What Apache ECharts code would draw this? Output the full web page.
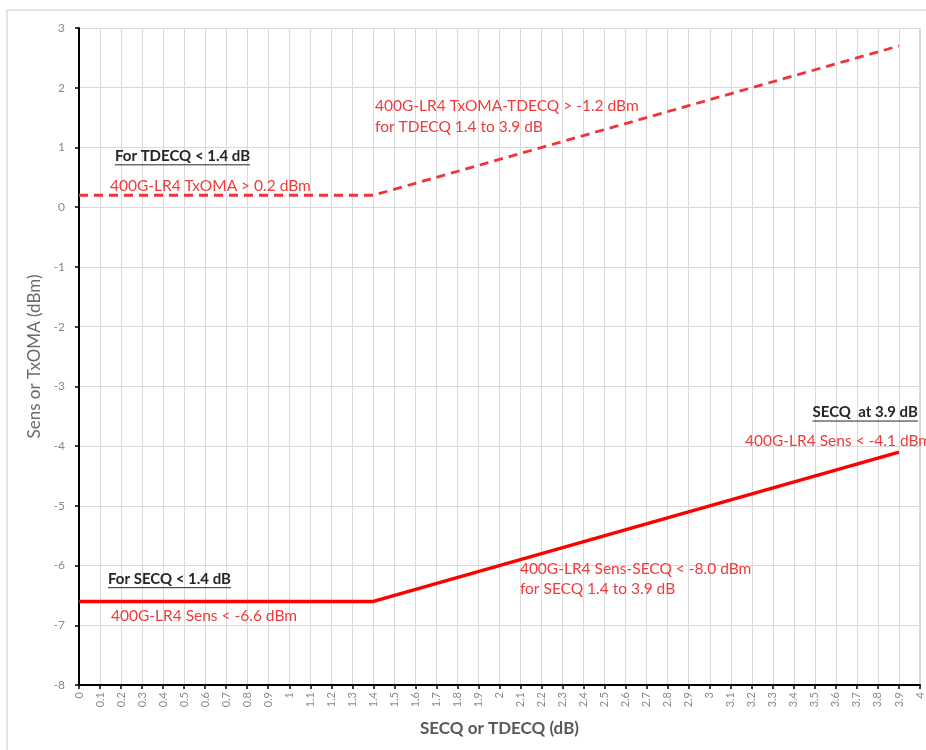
<!DOCTYPE html>
<html><head><meta charset="utf-8">
<script src="https://cdn.jsdelivr.net/npm/echarts@6/dist/echarts.min.js"></script>
<style>html,body{margin:0;padding:0;background:#fff}#c{width:926px;height:750px}</style>
</head><body><div id="c"></div>
<script>
// Data
var txX = [0, 1.4, 3.9];
var txY = [0.2, 0.2, 2.7];
var sensX = [0, 1.4, 3.9];
var sensY = [-6.6, -6.6, -4.1];
var xTicks = [];
for (var i = 0; i <= 40; i++) xTicks.push(i / 10);
var yTicks = [3, 2, 1, 0, -1, -2, -3, -4, -5, -6, -7, -8];

// Annotations (text, data coord anchor)
var annoTexts = [
  'For TDECQ < 1.4 dB',
  '400G-LR4 TxOMA > 0.2 dBm',
  '400G-LR4 TxOMA-TDECQ > -1.2 dBm',
  'for TDECQ 1.4 to 3.9 dB',
  'SECQ  at 3.9 dB',
  '400G-LR4 Sens < -4.1 dBm',
  'For SECQ < 1.4 dB',
  '400G-LR4 Sens < -6.6 dBm',
  '400G-LR4 Sens-SECQ < -8.0 dBm',
  'for SECQ 1.4 to 3.9 dB'
];
var annoX = [0.171, 0.147, 1.408, 1.408, 3.99, 3.168, 0.138, 0.152, 2.097, 2.097];
var annoY = [0.86, 0.355, 1.69, 1.34, -3.43, -3.92, -6.22, -6.85, -6.06, -6.39];
var annoKind = ['head','red','red','red','headR','red','head','red','red','red'];

function pairs(xs, ys){ return xs.map(function(x,i){ return [x, ys[i]]; }); }

var FONT = 'Lato';
var chart = echarts.init(document.getElementById('c'));
var option = {
  animation: false,
  backgroundColor: '#fff',
  grid: { left: 79, right: 6, top: 28, bottom: 65, show: false },
  xAxis: {
    type: 'value', min: 0, max: 4, interval: 0.1,
    name: 'SECQ or TDECQ (dB)', nameLocation: 'middle', nameGap: 35,
    nameTextStyle: { color: '#595959', fontSize: 17, fontWeight: 'bold', fontFamily: FONT },
    axisLine: { show: true, onZero: false, lineStyle: { color: '#000', width: 2 } },
    axisTick: { show: true, length: 4, lineStyle: { color: '#000', width: 1.5 } },
    axisLabel: {
      rotate: 90, color: '#8a8a8a', fontSize: 11, fontFamily: FONT, margin: 7,
      formatter: function(v){ return String(Math.round(v*10)/10); }
    },
    splitLine: { show: true, lineStyle: { color: '#d9d9d9', width: 1 } }
  },
  yAxis: {
    type: 'value', min: -8, max: 3, interval: 1,
    name: 'Sens or TxOMA (dBm)', nameLocation: 'middle', nameGap: 28,
    nameTextStyle: { color: '#6b6b6b', fontSize: 17, fontFamily: FONT },
    axisLine: { show: true, onZero: false, lineStyle: { color: '#000', width: 2 } },
    axisTick: { show: true, length: 4, lineStyle: { color: '#000', width: 1.5 } },
    axisLabel: { color: '#8a8a8a', fontSize: 12, fontFamily: FONT, margin: 14 },
    splitLine: { show: true, lineStyle: { color: '#d9d9d9', width: 1 } }
  },
  series: [
    {
      type: 'line', data: pairs(txX, txY), symbol: 'none',
      lineStyle: { color: '#f2323a', width: 2.8, type: [9, 6] }
    },
    {
      type: 'line', data: pairs(sensX, sensY), symbol: 'none',
      lineStyle: { color: '#ff0000', width: 3.5 }
    }
  ]
};
chart.setOption(option);

var ctx = document.createElement('canvas').getContext('2d');
function measure(t, f){ ctx.font = f; return ctx.measureText(t).width; }

var g = [];
g.push({ type: 'rect', shape: { x: 7, y: 10, width: 940, height: 760 }, style: { fill: 'none', stroke: '#dcdcdc', lineWidth: 1.5 }, z: -10, silent: true });
var pTop = chart.convertToPixel({gridIndex:0}, [4, 3]);
var pBot = chart.convertToPixel({gridIndex:0}, [4, -8]);
g.push({ type: 'line', shape: { x1: pTop[0]-0.5, y1: pTop[1], x2: pBot[0]-0.5, y2: pBot[1] }, style: { stroke: '#d9d9d9', lineWidth: 1 }, z: 0, silent: true });

for (var k = 0; k < annoTexts.length; k++) {
  var p = chart.convertToPixel({gridIndex:0}, [annoX[k], annoY[k]]);
  var kind = annoKind[k];
  var isHead = kind === 'head' || kind === 'headR';
  var fs = isHead ? 15 : 15.5;
  var fw = isHead ? 'bold' : 'normal';
  var color = isHead ? '#262626' : '#ef3b3b';
  var align = kind === 'headR' ? 'right' : 'left';
  g.push({ type: 'text', x: p[0], y: p[1], z: 10, silent: true,
    style: { text: annoTexts[k], fill: color, font: fw + ' ' + fs + 'px ' + FONT, textAlign: align, textVerticalAlign: 'middle' } });
  if (isHead) {
    var w = measure(annoTexts[k], fw + ' ' + fs + 'px ' + FONT);
    var x1 = align === 'right' ? p[0] - w : p[0];
    g.push({ type: 'line', z: 10, silent: true, shape: { x1: x1, y1: p[1] + 9, x2: x1 + w, y2: p[1] + 9 }, style: { stroke: '#262626', lineWidth: 1 } });
  }
}
chart.setOption({ graphic: g });
</script>
</body></html>
